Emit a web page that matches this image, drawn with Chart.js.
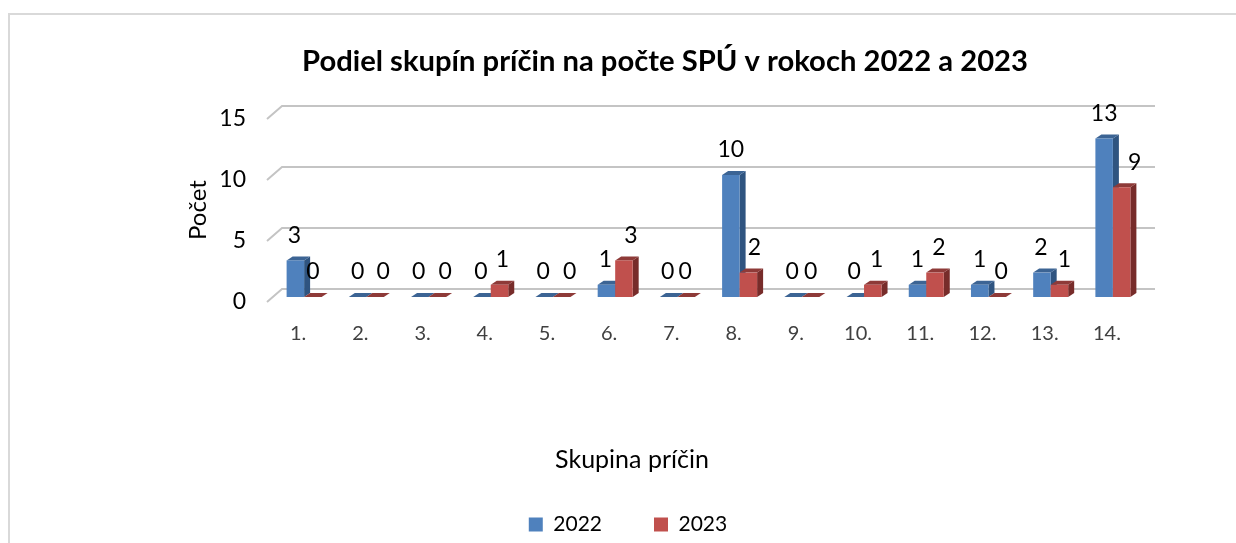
<!DOCTYPE html>
<html><head><meta charset="utf-8">
<script src="https://cdn.jsdelivr.net/npm/chart.js@4"></script>
<style>
html,body{margin:0;padding:0;background:#fff;overflow:hidden}
#frame{position:absolute;left:8px;top:13px;width:1300px;height:600px;border:2px solid #d9d9d9;box-sizing:border-box}
#wrap{position:absolute;left:0;top:0;width:1236px;height:543px}
</style></head><body>
<div id="frame"></div>
<div id="wrap"><canvas id="c" width="1236" height="543"></canvas></div>
<script>
const categories=['1.','2.','3.','4.','5.','6.','7.','8.','9.','10.','11.','12.','13.','14.'];
const values2022=[3,0,0,0,0,1,0,10,0,0,1,1,2,13];
const values2023=[0,0,0,1,0,3,0,2,0,1,2,0,1,9];
const yTicks=[0,5,10,15];
const titleText='Podiel skupín príčin na počte SPÚ v rokoch 2022 a 2023';
const xTitle='Skupina príčin';
const yTitle='Počet';
// horizontal nudges of the value labels, relative to each bar's centre
const nudge2022=[-1,0,-1,-1,-1,-1,-1,0,-1,-1,0,0,-1,0];
const nudge2023=[0,8,8,3,8,7,-1,6,0,4,4,4,5,13];
const FONT='Lato, Carlito, sans-serif';
const DX=6, DY=4;
const faces=[{side:'#2f5480',top:'#3c6494'},{side:'#772c2a',top:'#8e3a38'}];
const plot={left:273,right:1144,top:114,bottom:297};

function drawFaces(chart,meta,f){
  const {ctx}=chart;
  ctx.save();
  meta.data.forEach(b=>{
    const p=b.getProps(['x','y','base','width'],true);
    const l=p.x-p.width/2,r=p.x+p.width/2;
    ctx.fillStyle=f.side;
    ctx.beginPath();ctx.moveTo(r,p.y);ctx.lineTo(r+DX,p.y-DY);ctx.lineTo(r+DX,p.base-DY);ctx.lineTo(r,p.base);ctx.closePath();ctx.fill();
    ctx.fillStyle=f.top;
    ctx.beginPath();ctx.moveTo(l,p.y);ctx.lineTo(l+DX,p.y-DY);ctx.lineTo(r+DX,p.y-DY);ctx.lineTo(r,p.y);ctx.closePath();ctx.fill();
  });
  ctx.restore();
}

const backdrop={
  id:'backdrop',
  afterLayout(chart){
    chart.legend.left-=37;chart.legend.right-=37;
  },
  beforeDatasetsDraw(chart){
    const {ctx,scales:{y}}=chart;
    ctx.save();
    yTicks.forEach(v=>{
      const py=y.getPixelForValue(v);
      ctx.strokeStyle='#c4c4c4';ctx.lineWidth=2;
      ctx.beginPath();
      ctx.moveTo(267,py+5);ctx.lineTo(282,py-8);ctx.lineTo(1155,py-8);
      ctx.stroke();
    });
    ctx.restore();
  },
  beforeDatasetDraw(chart,args){
    if(args.index===1) return false; // the 2023 bars stand in front, drawn after 2022
    drawFaces(chart,args.meta,faces[0]);
  },
  afterDatasetsDraw(chart){
    const {ctx}=chart;
    const red=chart.getDatasetMeta(1);
    drawFaces(chart,red,faces[1]);
    red.controller.draw();
    ctx.save();
    ctx.font='23px '+FONT;ctx.fillStyle='#000';ctx.textAlign='center';ctx.textBaseline='middle';
    [nudge2022,nudge2023].forEach((n,d)=>{
      chart.getDatasetMeta(d).data.forEach((b,i)=>{
        ctx.fillText(String(chart.data.datasets[d].data[i]),b.x+n[i],b.y-25);
      });
    });
    ctx.font='25px '+FONT;
    ctx.fillText(xTitle,632,460);
    ctx.font='24px '+FONT;
    ctx.translate(198,210);ctx.rotate(-Math.PI/2);
    ctx.fillText(yTitle,0,0);
    ctx.restore();
  }
};

new Chart(document.getElementById('c'),{
  type:'bar',
  data:{labels:categories,datasets:[
    {label:'2022',data:values2022,backgroundColor:'#4f81bd'},
    {label:'2023',data:values2023,backgroundColor:'#c0504d'}
  ]},
  plugins:[backdrop],
  options:{
    responsive:false,animation:false,
    layout:{padding:{left:186,right:92,top:0,bottom:-2}},
    datasets:{bar:{categoryPercentage:0.5626,barPercentage:1}},
    plugins:{
      tooltip:{enabled:false},
      title:{display:true,text:titleText,color:'#000',font:{family:FONT,size:29.2,weight:'bold'},padding:{top:44,bottom:35}},
      legend:{display:true,position:'bottom',labels:{color:'#000',boxWidth:14,boxHeight:14,padding:52,font:{family:FONT,size:21}}}
    },
    scales:{
      x:{
        grid:{display:false},border:{display:false},
        ticks:{color:'#404040',font:{family:FONT,size:20},labelOffset:-6,padding:17,maxRotation:0,autoSkip:false},
        afterFit(s){s.height=165;}
      },
      y:{
        min:0,max:15,
        grid:{display:false},border:{display:false},
        ticks:{color:'#000',font:{family:FONT,size:23},stepSize:5,padding:19,labelOffset:5},
        afterFit(s){s.width=plot.left-186;}
      }
    }
  }
});
</script>
</body></html>
